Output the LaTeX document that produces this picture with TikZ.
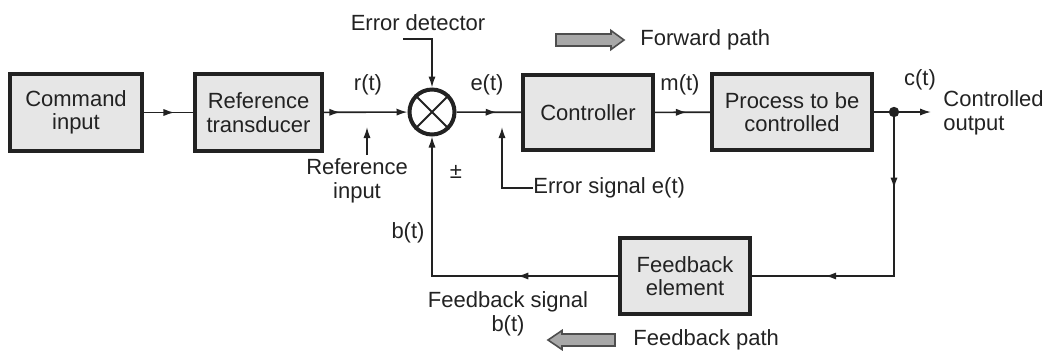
\documentclass[tikz,border=0pt]{standalone}
\usepackage{fontspec}
\setmainfont{Liberation Sans}
\usetikzlibrary{decorations.markings,arrows.meta}
\definecolor{boxfill}{HTML}{E6E6E6}
\definecolor{ink}{HTML}{222222}
\definecolor{bigarr}{HTML}{A8A8A8}
\tikzset{
  blk/.style={draw=ink,fill=boxfill,line width=1.6pt,align=center,inner sep=0pt,font=\fontsize{11}{11.8}\selectfont,text=ink},
  lbl/.style={inner sep=0pt,font=\fontsize{11}{11.8}\selectfont,text=ink,align=center},
  conn/.style={draw=ink,line width=0.8pt},
  endarr/.style={-{Latex[length=5.5pt,width=3.6pt]}},
  midarr/.style={postaction={decorate},decoration={markings,mark=at position #1 with {\arrow{Latex[length=5.5pt,width=3.6pt]}}}},
  midarrtwo/.style 2 args={postaction={decorate},decoration={markings,mark=at position #1 with {\arrow{Latex[length=5.5pt,width=3.6pt]}},mark=at position #2 with {\arrow{Latex[length=5.5pt,width=3.6pt]}}}},
  wide/.style={draw=ink!80,fill=bigarr,line width=0.8pt,line join=miter}
}
\begin{document}
\begin{tikzpicture}[x=0.5pt,y=-0.5pt]
\useasboundingbox (0,0) rectangle (1048,350);
% blocks
\node[blk,minimum width=66pt,minimum height=38.5pt] (cmd) at (76,112.5) {Command\\input};
\node[blk,minimum width=63.5pt,minimum height=38.5pt] (ref) at (258.5,112.5) {Reference\\transducer};
\node[draw=ink,line width=2pt,circle,minimum size=22.5pt,inner sep=0pt] (sum) at (432,112) {};
\draw[ink,line width=0.9pt] (sum.north east) -- (sum.south west) (sum.north west) -- (sum.south east);
\node[blk,minimum width=65pt,minimum height=37.5pt] (ctrl) at (588,112.5) {Controller};
\node[blk,minimum width=80pt,minimum height=38pt] (proc) at (792,112) {Process to be\\controlled};
\node[blk,minimum width=65pt,minimum height=38pt] (fb) at (685,276) {Feedback\\element};
\coordinate (dot) at (894,112);
\coordinate (out) at (931,112);
\fill[ink] (dot) circle (2.6pt);
% main connectors
\draw[conn,midarr=0.62] (cmd) -- (ref);
\draw[conn,endarr,midarr=0.2] (ref) -- (sum);
\draw[conn,midarr=0.62] (sum) -- (ctrl);
\draw[conn,midarr=0.58] (ctrl) -- (proc);
\draw[conn] (proc.east) -- (dot);
\draw[conn,endarr] (dot) -- (out);
\draw[conn,midarrtwo={0.25}{0.76}] (dot) |- (fb.east);
\draw[conn,endarr,midarr=0.31] (fb.west) -| (sum.south);
% labels
\node[lbl] (rt) at (368,85) {r(t)};
\node[lbl] (et) at (487,85) {e(t)};
\node[lbl] (mt) at (680,85) {m(t)};
\node[lbl] (ct) at (920,80) {c(t)};
\node[lbl,align=left,anchor=west] (co) at (943,113) {Controlled\\output};
\node[lbl] (bt) at (408,233) {b(t)};
\node[lbl] (pm) at (456,172) {±};
% error detector leader
\node[lbl] (ed) at (418,23) {Error detector};
\coordinate (edl) at (403,39);
\draw[conn,endarr] (edl) -| (sum.north);
% reference input
\node[lbl] (ri) at (357,181) {Reference\\input};
\coordinate (ria) at (367,155);
\coordinate (rib) at (367,127);
\draw[conn,endarr] (ria) -- (rib);
% error signal
\node[lbl,anchor=west] (es) at (533,188) {Error signal e(t)};
\coordinate (esa) at (502,188);
\coordinate (esb) at (502,127);
\draw[conn,endarr] (es.west) -- (esa) -- (esb);
% feedback signal
\node[lbl] (fs) at (508,314) {Feedback signal\\b(t)};
% forward path
\draw[wide] (556,34) -- (611,34) -- (611,30.5) -- (624,40) -- (611,49.5) -- (611,46) -- (556,46) -- cycle;
\node[lbl,anchor=west] (fp) at (640,40) {Forward path};
% feedback path
\draw[wide] (615,334) -- (562,334) -- (562,330.5) -- (548,340) -- (562,349.5) -- (562,346) -- (615,346) -- cycle;
\node[lbl,anchor=west] (fbp) at (633,340) {Feedback path};
\end{tikzpicture}
\end{document}
